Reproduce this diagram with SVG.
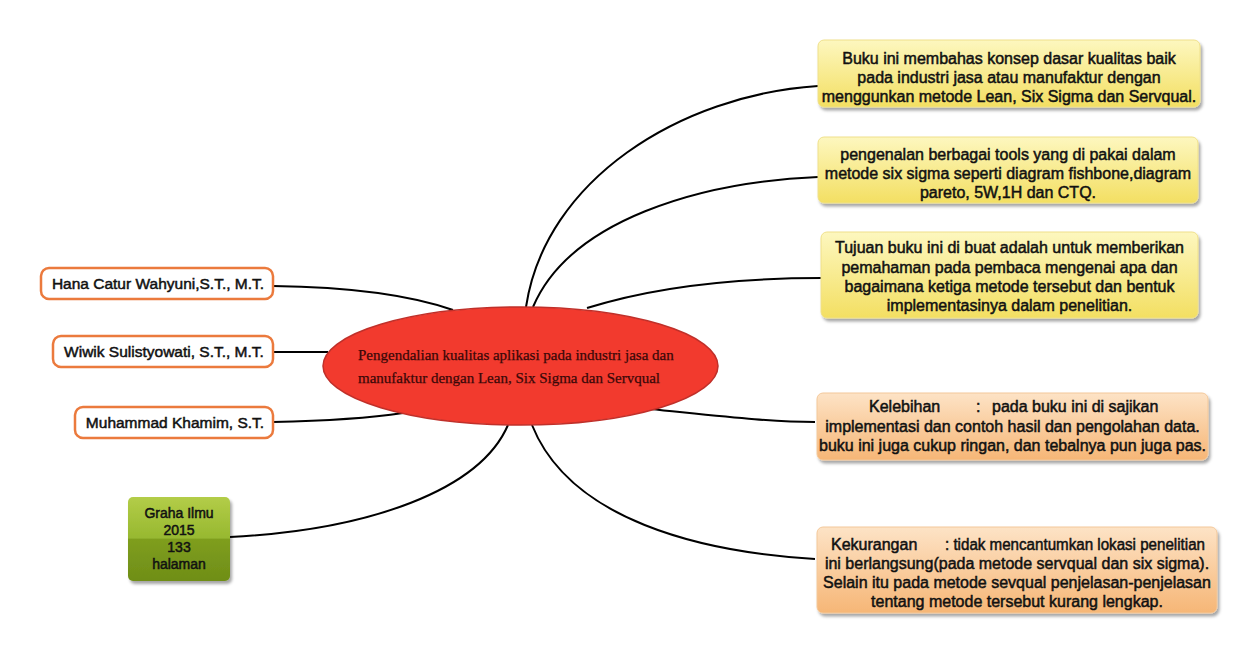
<svg xmlns="http://www.w3.org/2000/svg" width="1260" height="661" viewBox="0 0 1260 661">
<defs>
<linearGradient id="gy" x1="0" y1="0" x2="0" y2="1"><stop offset="0" stop-color="#fdf7bf"/><stop offset="1" stop-color="#f3df62"/></linearGradient>
<linearGradient id="go" x1="0" y1="0" x2="0" y2="1"><stop offset="0" stop-color="#fde3c6"/><stop offset="1" stop-color="#f6b676"/></linearGradient>
<linearGradient id="gg" x1="0" y1="0" x2="0" y2="1"><stop offset="0" stop-color="#b3cd48"/><stop offset="0.49" stop-color="#97b830"/><stop offset="0.5" stop-color="#7f9e1f"/><stop offset="1" stop-color="#6f8e17"/></linearGradient>
<filter id="sh" x="-10%" y="-10%" width="125%" height="135%"><feDropShadow dx="2" dy="3" stdDeviation="1.8" flood-color="#000" flood-opacity="0.35"/></filter>
<style>
.c{fill:none;stroke:#000;stroke-width:2}
.t{font-family:"Liberation Sans",Arial,sans-serif;font-size:16px;fill:#111;stroke:#111;stroke-width:0.5;text-anchor:middle}
.tl{font-family:"Liberation Sans",Arial,sans-serif;font-size:15.5px;fill:#111;stroke:#111;stroke-width:0.5;text-anchor:middle}
.tg{font-family:"Liberation Sans",Arial,sans-serif;font-size:14px;fill:#111;stroke:#111;stroke-width:0.5;text-anchor:middle}
.by{fill:url(#gy);stroke:#efe08a;stroke-width:1;filter:url(#sh)}
.bo{fill:url(#go);stroke:#f3c89a;stroke-width:1;filter:url(#sh)}
.bw{fill:#fff;stroke:#eb7a3d;stroke-width:2.5}
</style>
</defs>
<rect width="1260" height="661" fill="#fff"/>
<g id="connectors">
<path class="c" d="M526 307 C545 180 680 95 818 86"/>
<path class="c" d="M533 307 C570 220 700 182 818 177"/>
<path class="c" d="M587 308 C660 285 740 278 822 278"/>
<path class="c" d="M650 409 C720 416 770 422 815 422"/>
<path class="c" d="M532 425 C570 520 700 552 815 559"/>
<path class="c" d="M273 286 C350 287 410 295 453 310"/>
<path class="c" d="M273 352 L328 352"/>
<path class="c" d="M273 422 C320 421 370 418 403 413"/>
<path class="c" d="M230 537 C370 530 480 490 508 425"/>
</g>
<g id="center">
<ellipse cx="520.5" cy="366" rx="197.5" ry="59" fill="#f23a2e" stroke="#c0302a" stroke-width="1.5"/>
<text font-family="'Liberation Serif','Times New Roman',serif" font-size="15" fill="#3a0808" stroke="#3a0808" stroke-width="0.25"><tspan x="358" y="360">Pengendalian kualitas aplikasi pada industri jasa dan</tspan><tspan x="358" y="383">manufaktur dengan Lean, Six Sigma dan Servqual</tspan></text>
</g>
<g id="box1">
<rect class="by" x="818" y="40" width="382" height="67" rx="6"/>
<text class="t"><tspan x="1009" y="64">Buku ini membahas konsep dasar kualitas baik</tspan><tspan x="1009" y="83">pada industri jasa atau manufaktur dengan</tspan><tspan x="1009" y="102">menggunkan metode Lean, Six Sigma dan Servqual.</tspan></text>
</g>
<g id="box2">
<rect class="by" x="818" y="137" width="380" height="66" rx="6"/>
<text class="t"><tspan x="1008" y="160">pengenalan berbagai tools yang di pakai dalam</tspan><tspan x="1008" y="179">metode six sigma seperti diagram fishbone,diagram</tspan><tspan x="1008" y="198">pareto, 5W,1H dan CTQ.</tspan></text>
</g>
<g id="box3">
<rect class="by" x="821" y="232" width="377" height="86" rx="6"/>
<text class="t"><tspan x="1009.5" y="253">Tujuan buku ini di buat adalah untuk memberikan</tspan><tspan x="1009.5" y="273">pemahaman pada pembaca mengenai apa dan</tspan><tspan x="1009.5" y="292">bagaimana ketiga metode tersebut dan bentuk</tspan><tspan x="1009.5" y="311">implementasinya dalam penelitian.</tspan></text>
</g>
<g id="box4">
<rect class="bo" x="817" y="393" width="391" height="67" rx="6"/>
<text class="t"><tspan x="869" y="412" text-anchor="start">Kelebihan</tspan><tspan x="976" y="412" text-anchor="start">:</tspan><tspan x="992" y="412" text-anchor="start">pada buku ini di sajikan</tspan><tspan x="1012.5" y="432">implementasi dan contoh hasil dan pengolahan data.</tspan><tspan x="1012.5" y="451">buku ini juga cukup ringan, dan tebalnya pun juga pas.</tspan></text>
</g>
<g id="box5">
<rect class="bo" x="817" y="527" width="400" height="86" rx="6"/>
<text class="t"><tspan x="831" y="550" text-anchor="start">Kekurangan</tspan><tspan x="945" y="550" text-anchor="start" textLength="260" lengthAdjust="spacingAndGlyphs">: tidak mencantumkan lokasi penelitian</tspan><tspan x="1017" y="569">ini berlangsung(pada metode servqual dan six sigma).</tspan><tspan x="1017" y="588">Selain itu pada metode sevqual penjelasan-penjelasan</tspan><tspan x="1017" y="607">tentang metode tersebut kurang lengkap.</tspan></text>
</g>
<g id="author1">
<rect class="bw" x="41" y="268" width="232" height="31" rx="8"/>
<text class="tl" x="158" y="289">Hana Catur Wahyuni,S.T., M.T.</text>
</g>
<g id="author2">
<rect class="bw" x="53" y="336" width="220" height="31" rx="8"/>
<text class="tl" x="164" y="357">Wiwik Sulistyowati, S.T., M.T.</text>
</g>
<g id="author3">
<rect class="bw" x="75" y="407" width="198" height="31" rx="8"/>
<text class="tl" x="175" y="428">Muhammad Khamim, S.T.</text>
</g>
<g id="publisher">
<rect x="128" y="497" width="102" height="84" rx="5" fill="url(#gg)" filter="url(#sh)"/>
<text class="tg"><tspan x="179" y="518">Graha Ilmu</tspan><tspan x="179" y="535">2015</tspan><tspan x="179" y="552">133</tspan><tspan x="179" y="569">halaman</tspan></text>
</g>
</svg>
